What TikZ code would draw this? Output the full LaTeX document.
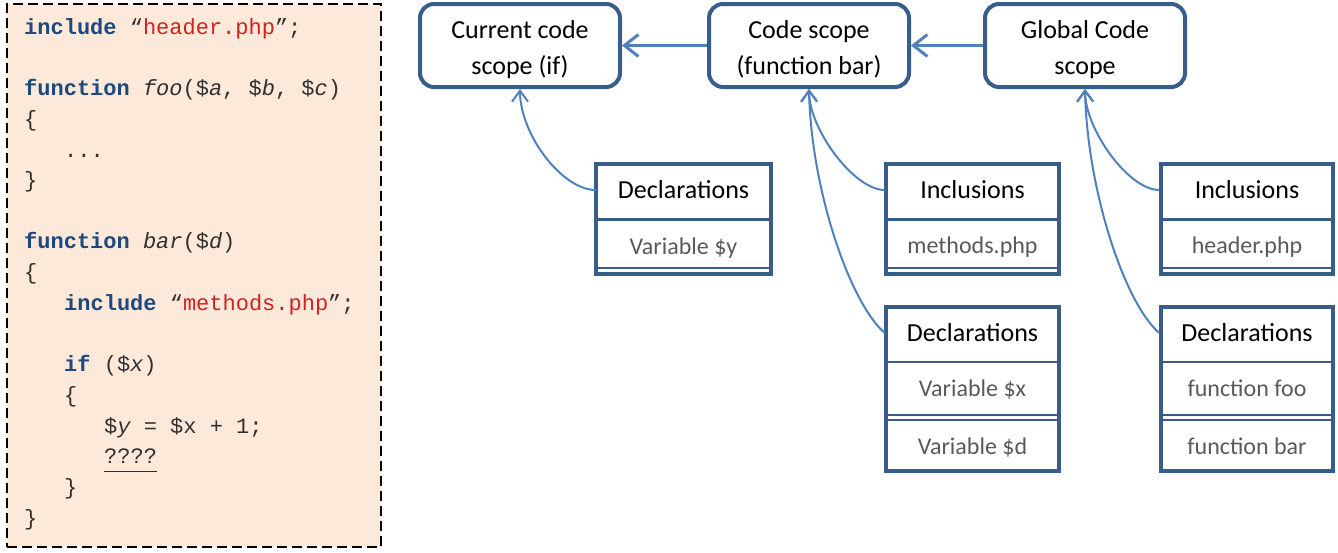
\documentclass[tikz,border=0pt]{standalone}
\usepackage{fontspec}
\setmainfont{Carlito}
\newfontfamily\codefont{Liberation Mono}
\usetikzlibrary{arrows.meta,calc}
\definecolor{frameblue}{HTML}{385D8A}
\definecolor{linkblue}{HTML}{4F81BD}
\definecolor{codebg}{HTML}{FDE9D9}
\definecolor{kwblue}{HTML}{1F497D}
\definecolor{strred}{HTML}{D02020}
\definecolor{codegray}{HTML}{303030}
\definecolor{itemgray}{HTML}{595959}
\newcommand\kw[1]{{\bfseries\color{kwblue}#1}}
\newcommand\strlit[1]{{\color{strred}#1}}
\newcommand\ident[1]{{\itshape #1}}
\begin{document}
\begin{tikzpicture}[x=1pt,y=-1pt,
  codepanel/.style={draw=black, line width=2.5pt, dash pattern=on 10pt off 5pt, fill=codebg, minimum width=374pt, minimum height=543pt, inner sep=0pt},
  codeline/.style={anchor=mid west, inner sep=0pt, font=\codefont\fontsize{22}{26}\selectfont, text=codegray},
  scopebox/.style={draw=frameblue, line width=4pt, rounded corners=14pt, fill=white, minimum width=200pt, minimum height=83pt, inner sep=0pt},
  scopetext/.style={align=center, font=\fontsize{26}{36}\selectfont, inner sep=0pt},
  headcell/.style={minimum width=175pt, minimum height=54pt, inner sep=0pt, font=\fontsize{26}{30}\selectfont},
  itemtext/.style={anchor=base, inner sep=0pt, font=\fontsize{24}{28}\selectfont, text=itemgray},
  tableframe/.style={draw=frameblue, line width=4pt},
  tablerule/.style={draw=frameblue, line width=2.5pt},
  thinrule/.style={draw=frameblue, line width=2pt},
  scopearrow/.style={draw=linkblue, line width=3pt, -{Straight Barb[length=14pt,width=22pt]}},
  scopelink/.style={draw=linkblue, line width=2pt, -{Straight Barb[length=11pt,width=16pt]}},
]
\useasboundingbox (0,0) rectangle (1338,552);

% PHP source listing
\node[codepanel] (code) at (194,275.5) {};
\node[codeline] (l1) at (24,32) {\kw{include} “\strlit{header.php}”;};
\node[codeline] (l2) at (24,93) {\kw{function} \ident{foo}(\$\ident{a}, \$\ident{b}, \$\ident{c})};
\node[codeline] (l3) at (24,124) {\{};
\node[codeline] (l4) at (64,155) {...};
\node[codeline] (l5) at (24,185) {\}};
\node[codeline] (l6) at (24,246) {\kw{function} \ident{bar}(\$\ident{d})};
\node[codeline] (l7) at (24,277) {\{};
\node[codeline] (l8) at (64,308) {\kw{include} “\strlit{methods.php}”;};
\node[codeline] (l9) at (64,369) {\kw{if} (\$\ident{x})};
\node[codeline] (l10) at (64,400) {\{};
\node[codeline] (l11) at (104,431) {\$\ident{y} = \$x + 1;};
\node[codeline] (l12) at (104,461) {????};
\draw[line width=1.5pt, codegray] ($(l12.base west)+(0,8)$) -- ($(l12.base east)+(0,8)$);
\node[codeline] (l13) at (64,492) {\}};
\node[codeline] (l14) at (24,523) {\}};

% scope chain
\node[scopebox] (cur) at (520,45.5) {};
\node[scopetext] (curlbl) at (520,49.5) {Current code\\scope (if)};
\node[scopebox] (fun) at (809,45.5) {};
\node[scopetext] (funlbl) at (809,49.5) {Code scope\\(function bar)};
\node[scopebox] (glob) at (1085,45.5) {};
\node[scopetext] (globlbl) at (1085,49.5) {Global Code\\scope};
\draw[scopearrow] (fun.west) -- (cur.east);
\draw[scopearrow] (glob.west) -- (fun.east);

% tables of the if scope
\node[headcell] (declIf) at (683.5,190) {Declarations};
\node[itemtext] (varY) at (683.5,254) {Variable \$y};
\draw[tablerule] (596,219.5) -- (771,219.5);
\draw[thinrule] (596,267.5) -- (771,267.5);
\draw[tableframe] (596,164) rectangle (771,274);

% tables of the function scope
\node[headcell] (inclFun) at (972.5,190) {Inclusions};
\node[itemtext] (methods) at (972.5,253) {methods.php};
\draw[tablerule] (886,219.5) -- (1059,219.5);
\draw[thinrule] (886,267.5) -- (1059,267.5);
\draw[tableframe] (886,164) rectangle (1059,274);

\node[headcell] (declFun) at (972.5,333) {Declarations};
\node[itemtext] (varX) at (972.5,396) {Variable \$x};
\node[itemtext] (varD) at (972.5,454) {Variable \$d};
\draw[tablerule] (886,362) -- (1059,362);
\draw[thinrule] (886,415) -- (1059,415);
\draw[thinrule] (886,420) -- (1059,420);
\draw[tableframe] (886,307) rectangle (1059,471);

% tables of the global scope
\node[headcell] (inclGlob) at (1247,190) {Inclusions};
\node[itemtext] (header) at (1247,253) {header.php};
\draw[tablerule] (1161,219.5) -- (1333,219.5);
\draw[thinrule] (1161,267.5) -- (1333,267.5);
\draw[tableframe] (1161,164) rectangle (1333,274);

\node[headcell] (declGlob) at (1247,333) {Declarations};
\node[itemtext] (fnFoo) at (1247,396) {function foo};
\node[itemtext] (fnBar) at (1247,454) {function bar};
\draw[tablerule] (1161,362) -- (1333,362);
\draw[thinrule] (1161,415) -- (1333,415);
\draw[thinrule] (1161,420) -- (1333,420);
\draw[tableframe] (1161,307) rectangle (1333,471);

% links from tables to their scopes
\draw[scopelink] (declIf.west) .. controls +(-34,0) and +(0,45) .. (cur.south);
\draw[scopelink] (inclFun.west) .. controls +(-31,0) and +(0,40) .. (fun.south);
\draw[scopelink] (declFun.west) .. controls +(-35,-30) and +(2,100) .. (fun.south);
\draw[scopelink] (inclGlob.west) .. controls +(-31,0) and +(0,40) .. (glob.south);
\draw[scopelink] (declGlob.west) .. controls +(-35,-30) and +(2,100) .. (glob.south);
\end{tikzpicture}
\end{document}
